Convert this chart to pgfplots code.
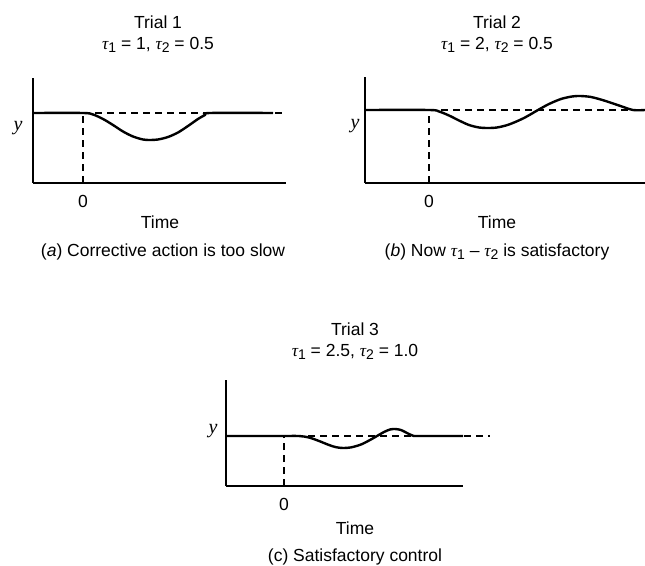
\documentclass[border=0pt]{standalone}
\usepackage{pgfplots}
\pgfplotsset{compat=1.18}
\usepackage{fontspec}
\setmainfont{Liberation Sans}
\newfontfamily\serif{Liberation Serif}
\newcommand\tsub[1]{{\serif\itshape τ}\raisebox{-0.35ex}{\fontsize{14}{14}\selectfont #1}}
\newcommand\yl{{\serif\itshape\fontsize{20}{20}\selectfont y}}
\begin{document}
\fontsize{17.5}{21}\selectfont
\begin{tikzpicture}[x=1pt,y=1pt]
\useasboundingbox (0,0) rectangle (645,565);
\pgfplotsset{
  every axis title shift=0pt,
  panel/.style={
    x=1pt, y=1pt, axis lines*=left, enlargelimits=false, clip=false,
    axis line style={line width=1.6pt, -},
    ytick=\empty, xtick={0}, xticklabels={0},
    major tick length=0pt,
    xticklabel style={yshift=-6pt},
    font=\fontsize{17.5}{21}\selectfont,
    xlabel={Time},
    ylabel={\yl},
    title style={anchor=center, align=center},
  },
  curve/.style={black, line width=2.4pt, smooth, tension=0.5, mark=none},
  ref/.style={black, line width=1.2pt, dash pattern=on 7pt off 5pt, mark=none},
}
% ---------- Panel (a) ----------
\begin{axis}[panel, at={(33,382)}, anchor=south west,
  xmin=-50, xmax=203, ymin=0, ymax=105,
  title={Trial 1\\\tsub{1} = 1, \tsub{2} = 0.5},
  title style={at={(axis cs:75,149)}},
  xlabel style={at={(axis cs:77,-39)}, anchor=center},
  ylabel style={at={(axis cs:-65,55)}, anchor=center, rotate=-90},
]
\addplot[ref] coordinates {(0,70) (203,70)};
\addplot[ref] coordinates {(0,0) (0,70)};
\addplot[curve] coordinates {
 (-50,70) (0,70) (10,68.5) (20,64) (30,58) (40,51.5) (50,46.5) (60,43.5) (67,43)
 (75,43.5) (85,46) (95,50.5) (105,57) (115,64) (122,68) (127,70) (190,70)};
\node at (axis cs:80,-69) {(\textit{a}) Corrective action is too slow};
\end{axis}
% ---------- Panel (b) ----------
\begin{axis}[panel, at={(365,382)}, anchor=south west,
  xmin=-64, xmax=216, ymin=0, ymax=106,
  title={Trial 2\\\tsub{1} = 2, \tsub{2} = 0.5},
  title style={at={(axis cs:68,149)}},
  xlabel style={at={(axis cs:68,-39)}, anchor=center},
  ylabel style={at={(axis cs:-74,57)}, anchor=center, rotate=-90},
]
\addplot[ref] coordinates {(0,73) (216,73)};
\addplot[ref] coordinates {(0,0) (0,73)};
\addplot[curve] coordinates {
 (-64,73) (0,73) (10,71.5) (20,67.5) (30,62.5) (40,58) (50,55.5) (58,55) (68,55.5)
 (80,58.5) (95,65) (109,73) (120,79) (132,84) (143,86.5) (151,87) (162,86)
 (175,82.5) (190,77.5) (204,73) (216,73)};
\node at (axis cs:68,-69) {(\textit{b}) Now \tsub{1} -- \tsub{2} is satisfactory};
\end{axis}
% ---------- Panel (c) ----------
\begin{axis}[panel, at={(226,79)}, anchor=south west,
  xmin=-58, xmax=179, ymin=0, ymax=106,
  title={Trial 3\\\tsub{1} = 2.5, \tsub{2} = 1.0},
  title style={at={(axis cs:71,145)}},
  xlabel style={at={(axis cs:71,-42)}, anchor=center},
  ylabel style={at={(axis cs:-71,55)}, anchor=center, rotate=-90},
]
\addplot[ref] coordinates {(0,50) (206,50)};
\addplot[ref] coordinates {(0,0) (0,50)};
\addplot[curve] coordinates {
 (-58,50) (0,50) (15,50) (25,48.5) (35,45) (45,41) (52,38.8) (59,38) (67,38.6)
 (77,41.5) (86,46) (93,50) (100,54) (106,56.5) (111,57) (117,56) (123,53)
 (129,50.3) (135,50) (179,50)};
\node at (axis cs:71,-71) {(c) Satisfactory control};
\end{axis}
\end{tikzpicture}
\end{document}
